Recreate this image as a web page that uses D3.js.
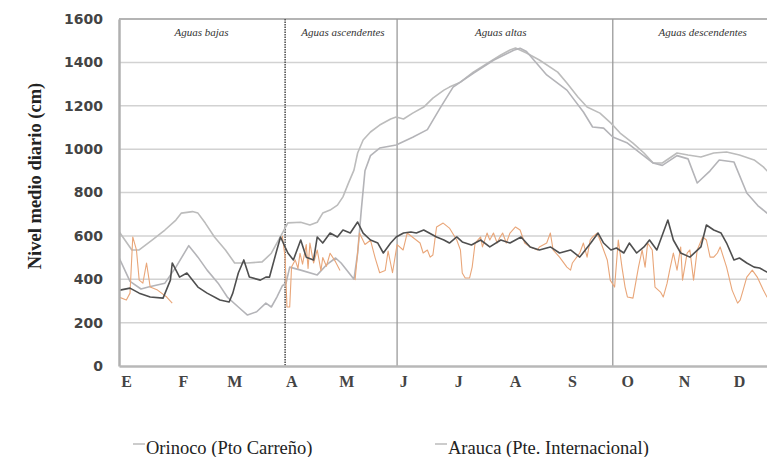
<!DOCTYPE html>
<html>
<head>
<meta charset="utf-8">
<script src="https://cdn.jsdelivr.net/npm/d3@7"></script>
<style>
  html, body { margin: 0; padding: 0; background: #fff; }
  svg { display: block; }
</style>
</head>
<body>
<svg id="chart" width="767" height="457"></svg>
<script>
// Month initials (Spanish) and the day of year on which each month starts
const monthLabels = ["E", "F", "M", "A", "M", "J", "J", "A", "S", "O", "N", "D"];
const monthStarts = [0, 31, 59, 90, 120, 151, 181, 212, 243, 273, 304, 334];

// Hydrological periods: label and the day of year where each one begins
const periodNames = ["Aguas bajas", "Aguas ascendentes", "Aguas altas", "Aguas descendentes"];
const periodStarts = [0, 90.5, 151.5, 269];
const periodLabelDays = [45, 122, 208, 318];

const yTicks = [0, 200, 400, 600, 800, 1000, 1200, 1400, 1600];

// Daily mean level (cm), [day of year, level]; null breaks the line
const orinocoA = [[0,620],[7,535],[11,535],[18,580],[25,627],[31,673],[34,705],[40,712],[43,705],[47,659],[52,595],[58,535],[63,475],[70,475],[78,480],[83,520],[89,613],[92,660],[99,663],[104,650],[108,663],[111,705],[115,719],[119,742],[122,780],[125,843],[128,903],[130,982],[133,1042],[137,1079],[142,1111],[148,1139],[151,1148],[155,1139],[160,1166],[166,1194],[171,1235],[177,1272],[180,1286],[186,1309],[193,1355],[201,1397],[208,1434],[213,1457],[216,1466],[222,1443],[229,1411],[239,1355],[244,1305],[250,1240],[255,1194],[262,1166],[268,1120],[273,1074],[280,1028],[286,982],[291,936],[296,936],[304,982],[310,973],[317,964],[324,982],[331,987],[338,973],[346,950],[351,918],[353,900],[365,860]];

const orinocoB = [[0,500],[6,390],[12,355],[16,364],[25,382],[31,456],[38,555],[43,502],[48,442],[54,382],[59,318],[65,272],[70,235],[75,250],[80,290],[83,272],[86,318],[89,370],[91,382],[93,456],[99,442],[108,420],[113,466],[118,498],[121,475],[128,400],[130,520],[132,720],[134,900],[137,970],[142,1005],[151,1019],[160,1055],[168,1090],[175,1190],[182,1286],[193,1350],[204,1410],[215,1456],[218.5,1465],[222,1450],[233,1342],[244,1272],[253,1171],[258,1102],[264,1097],[269,1056],[277,1028],[284,982],[291,936],[296,925],[304,970],[310,955],[315,844],[322,900],[327,950],[335,941],[342,798],[348,740],[353,705],[365,640]];

const araucaDark = [[0.5,350],[6,359],[11,336],[17,318],[24,313],[28,396],[29,475],[33,410],[37,429],[43,364],[48,336],[55,304],[60,295],[62,336],[65,429],[68,489],[71,410],[77,396],[80,410],[82,410],[86,535],[88,595],[92,521],[95,489],[99,581],[102,502],[106,489],[108,595],[111,567],[115,613],[119,595],[122,627],[126,613],[130,664],[133,613],[137,581],[141,567],[144,521],[148,567],[151,595],[155,613],[159,618],[162,613],[166,627],[169,613],[173,595],[177,581],[180,567],[184,595],[187,572],[192,558],[197,581],[202,549],[208,581],[213,567],[219,595],[224,549],[229,535],[235,549],[240,521],[246,535],[251,502],[257,567],[261,613],[264,567],[268,535],[271,544],[275,521],[278,567],[282,521],[286,549],[289,581],[293,535],[299,673],[302,581],[306,521],[311,502],[317,549],[320,650],[324,627],[328,613],[331,567],[335,489],[338,498],[342,475],[346,456],[349,452],[353,433],[365,410]];

const araucaOrange = [[0,318],[4,304],[6,336],[7.5,595],[9.5,535],[11,396],[13,382],[15,475],[17,364],[21,350],[26,318],[29,290],[29.5,null],
  [89,600],[90.5,500],[91.5,272],[93,272],[94,456],[96,489],[97.5,450],[98.6,520],[100,470],[102,560],[103,450],[104,567],[106,475],[108,535],[110,440],[111,500],[113,460],[115,520],[118,480],[120.4,440],[121,null],
  [128.6,396],[131,613],[134,560],[137,580],[139.5,500],[142,430],[145,440],[146.6,530],[149,430],[151.5,560],[154.8,535],[157,613],[164,567],[165.7,521],[168,535],[169.5,502],[171,512],[173,641],[176.6,659],[180,636],[184,581],[186,535],[187,429],[188.6,406],[191,406],[192.4,456],[194,567],[197,595],[198,549],[200.5,613],[202,581],[204,613],[206,567],[207.6,595],[209,613],[211,567],[213,613],[216,641],[218.5,627],[221,567],[224,549],[228,535],[229,549],[233,567],[235,613],[236.5,535],[240,502],[244,456],[246,442],[247,475],[251,521],[253,567],[255,502],[256.7,581],[258,595],[260.5,613],[262,581],[264,535],[266,489],[267.6,396],[270,364],[272,581],[274,456],[275.7,364],[277,318],[280,313],[283,456],[285,535],[286.6,456],[288,567],[290.5,535],[292,364],[295,341],[296.5,318],[298.6,382],[300,442],[302,521],[304,442],[306,549],[307,396],[309.5,521],[311,535],[313,396],[315,535],[316.6,567],[318,595],[320,581],[322,502],[324,502],[326,521],[327.5,549],[331,456],[334,350],[337,290],[338.4,304],[340,350],[342,410],[345,442],[347.7,410],[351,350],[353,318],[365,330]];

const svg = d3.select("#chart");
const W = 767, H = 457;
const plot = { left: 119, right: 789, top: 19, bottom: 366 };

const x = d3.scaleLinear().domain([0, 365]).range([plot.left, plot.right]);
const y = d3.scaleLinear().domain([0, 1600]).range([plot.bottom, plot.top]);

// Horizontal gridlines
svg.append("g")
  .selectAll("line")
  .data(yTicks.filter(d => d > 0 && d < 1600))
  .join("line")
  .attr("x1", plot.left).attr("x2", W)
  .attr("y1", d => y(d)).attr("y2", d => y(d))
  .attr("stroke", "#d2d2d2").attr("stroke-width", 1.5);

// Top frame line
svg.append("line")
  .attr("x1", plot.left).attr("x2", W)
  .attr("y1", y(1600)).attr("y2", y(1600))
  .attr("stroke", "#b4b4b4").attr("stroke-width", 2);

// Period dividers
svg.append("g")
  .selectAll("line")
  .data(periodStarts.slice(1))
  .join("line")
  .attr("x1", d => x(d)).attr("x2", d => x(d))
  .attr("y1", y(1600)).attr("y2", y(0))
  .attr("stroke", (d, i) => i === 0 ? "#555" : "#9a9a9a")
  .attr("stroke-width", (d, i) => i === 0 ? 1.6 : 1.3)
  .attr("stroke-dasharray", (d, i) => i === 0 ? "1.5,1" : null);

// Period labels
svg.append("g")
  .selectAll("text")
  .data(periodNames)
  .join("text")
  .attr("x", (d, i) => x(periodLabelDays[i]))
  .attr("y", 36)
  .attr("text-anchor", "middle")
  .attr("font-family", "Liberation Serif, serif")
  .attr("font-style", "italic")
  .attr("font-size", 11)
  .attr("fill", "#333")
  .text(d => d);

// Series
svg.append("clipPath").attr("id", "plotclip")
  .append("rect")
  .attr("x", plot.left).attr("y", 0)
  .attr("width", W - plot.left).attr("height", plot.bottom);

const line = d3.line()
  .defined(d => d[1] !== null)
  .x(d => x(d[0]))
  .y(d => y(d[1]));

const series = [
  { data: orinocoA, color: "#bcbcbc", width: 1.6 },
  { data: orinocoB, color: "#b4b4b8", width: 1.6 },
  { data: araucaOrange, color: "#e9a679", width: 1.1 },
  { data: araucaDark, color: "#4f4f4f", width: 1.6 }
];

svg.append("g")
  .attr("clip-path", "url(#plotclip)")
  .selectAll("path")
  .data(series)
  .join("path")
  .attr("d", d => line(d.data))
  .attr("fill", "none")
  .attr("stroke", d => d.color)
  .attr("stroke-width", d => d.width)
  .attr("stroke-linejoin", "round");

// Y axis
const yAxis = svg.append("g")
  .attr("transform", `translate(${plot.left},0)`)
  .call(d3.axisLeft(y).tickValues(yTicks).tickFormat(d3.format("d")).tickSize(0).tickPadding(16));
yAxis.select(".domain").attr("stroke", "#b0b0b0").attr("stroke-width", 2.5);
yAxis.selectAll("text")
  .attr("font-family", "DejaVu Sans, sans-serif")
  .attr("font-weight", "bold")
  .attr("font-size", 14)
  .attr("fill", "#444");

// X axis
const xAxis = svg.append("g")
  .attr("transform", `translate(0,${plot.bottom})`)
  .call(d3.axisBottom(x).tickValues(monthStarts)
    .tickFormat((d, i) => monthLabels[i]).tickSize(0).tickPadding(10));
xAxis.select(".domain").attr("stroke", "#b8b8b8").attr("stroke-width", 2.5);
xAxis.selectAll("text")
  .attr("dx", 7)
  .attr("font-family", "Liberation Serif, serif")
  .attr("font-weight", "bold")
  .attr("font-size", 16)
  .attr("fill", "#444");

// Y axis title
svg.append("text")
  .attr("transform", "translate(41,176) rotate(-90)")
  .attr("text-anchor", "middle")
  .attr("font-family", "Liberation Serif, serif")
  .attr("font-weight", "bold")
  .attr("font-size", 18.5)
  .attr("fill", "#222")
  .text("Nivel medio diario (cm)");

// Legend
const legendItems = [
  { name: "Orinoco (Pto Carreño)", x0: 133 },
  { name: "Arauca (Pte. Internacional)", x0: 435 }
];
const lg = svg.append("g").selectAll("g").data(legendItems).join("g");
lg.append("line")
  .attr("x1", d => d.x0).attr("x2", d => d.x0 + 12)
  .attr("y1", 444).attr("y2", 444)
  .attr("stroke", "#999").attr("stroke-width", 1);
lg.append("text")
  .attr("x", d => d.x0 + 13)
  .attr("y", 454)
  .attr("font-family", "Liberation Serif, serif")
  .attr("font-size", 18.5)
  .attr("fill", "#222")
  .text(d => d.name);
</script>
</body>
</html>
